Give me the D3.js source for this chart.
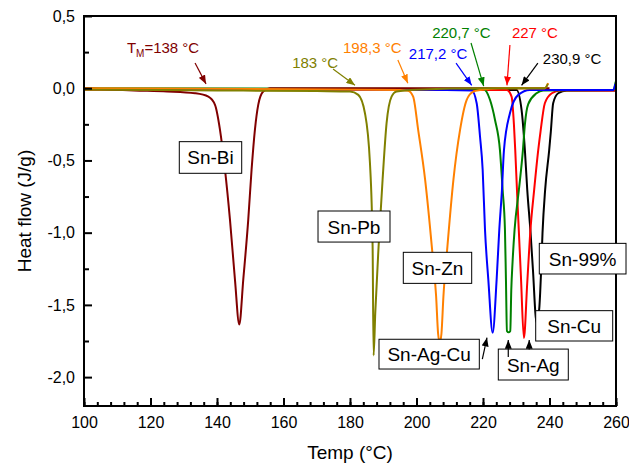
<!DOCTYPE html>
<html>
<head>
<meta charset="utf-8">
<script src="https://cdn.jsdelivr.net/npm/d3@7"></script>
<style>
  body { margin: 0; background: #fff; }
  svg { font-family: "Liberation Sans", Arial, sans-serif; }
</style>
</head>
<body>
<script>
// DSC curves: [temp °C, heat flow J/g]
const snBi = [[100,0],[115,-0.015],[125,-0.022],[133.4,-0.035],[137.4,-0.058],[139.4,-0.115],[140.9,-0.288],[142.4,-0.564],[143.9,-0.91],[145.4,-1.325],[146.7,-1.636],[147.9,-1.325],[149.4,-0.91],[150.4,-0.564],[151.4,-0.288],[152.4,-0.115],[153.9,-0.023],[155.9,0],[200,0],[240,0]]
const snPb = [[100,-0.01],[140,-0.015],[170,-0.02],[180,-0.023],[182.5,-0.046],[184.5,-0.173],[186,-0.518],[186.8,-1.095],[187.1,-1.85],[187.6,-1.555],[188.6,-1.095],[189.8,-0.634],[191,-0.242],[192.5,-0.058],[194,-0.023],[200,-0.01],[220,0],[238.6,0],[239.5,0.03]]
const snZn = [[100,0],[150,-0.005],[195,-0.012],[197.5,-0.017],[199,-0.058],[200.5,-0.288],[202.6,-0.634],[204.6,-1.095],[205.9,-1.44],[206.5,-1.7],[207,-1.76],[207.5,-1.7],[208.1,-1.44],[209.3,-1.095],[211.1,-0.634],[213.1,-0.288],[215.1,-0.08],[217.1,-0.023],[219.1,-0.012],[225,0],[238.6,0],[239.6,0.035]]
const snAgCu = [[100,-0.005],[200,-0.01],[216.6,-0.016],[218.1,-0.104],[219.1,-0.334],[219.9,-0.564],[220.6,-0.979],[221.6,-1.325],[222.9,-1.693],[224.1,-1.325],[224.9,-0.979],[225.7,-0.703],[226.3,-0.43],[228.1,-0.173],[230.6,-0.046],[234.1,-0.012],[259.2,-0.012],[259.8,0.03]]
const snAgGreen = [[100,0],[220.1,-0.005],[222.1,-0.08],[223.6,-0.218],[225.1,-0.43],[225.9,-0.703],[226.6,-0.979],[226.9,-1.325],[227.2,-1.68],[227.7,-1.69],[228.2,-1.68],[228.5,-1.4],[228.9,-1.2],[229.5,-0.979],[230.8,-0.703],[232,-0.43],[232.6,-0.25],[233.6,-0.11],[236.1,-0.035],[238.1,-0.016],[259.2,-0.012],[259.9,0.045]]
const snAgRed = [[100,-0.01],[200,-0.012],[227.1,-0.012],[228.6,-0.058],[229.3,-0.25],[229.7,-0.43],[230.3,-0.75],[230.8,-1.0],[231.4,-1.3],[232.3,-1.73],[233.3,-1.35],[234.2,-1.0],[235.4,-0.7],[236.6,-0.43],[237.3,-0.3],[238.6,-0.104],[240.7,-0.035],[243.2,-0.016],[259.7,-0.016]]
const snCu = [[100,-0.005],[200,-0.01],[230.1,-0.012],[231.6,-0.15],[232.6,-0.43],[233.3,-0.7],[234.3,-1.0],[235,-1.25],[236.1,-1.62],[236.9,-1.53],[237.5,-1.25],[237.9,-1.0],[238.7,-0.7],[239.9,-0.43],[240.4,-0.3],[241.1,-0.104],[242.6,-0.035],[245.2,-0.016],[259.7,-0.016]]

const seriesData = [snCu, snAgRed, snAgGreen, snAgCu, snBi, snZn, snPb]
const seriesColors = ['#000000', '#ff0000', '#008000', '#0000ff', '#800000', '#ff8000', '#808000']

const xTicks = [100, 120, 140, 160, 180, 200, 220, 240, 260]
const yTicks = [-2.0, -1.5, -1.0, -0.5, 0.0, 0.5]

// onset temperature notes: [text, color]
const onsetText = ['=138 °C', '183 °C', '198,3 °C', '217,2 °C', '220,7 °C', '227 °C', '230,9 °C']
const onsetColors = ['#800000', '#808000', '#ff8000', '#0000ff', '#008000', '#ff0000', '#000000']
// where they sit (data units): text start, arrow from, arrow to
const onsetPos = [
  {t: 112.9, v: 0.244, a: [133.4, 0.174, 136.7, 0.03]},
  {t: 162.6, v: 0.14,  a: [174.9, 0.133, 181.5, 0.02]},
  {t: 177.9, v: 0.244, a: [194.4, 0.195, 197.4, 0.035]},
  {t: 197.7, v: 0.202, a: [211.9, 0.174, 216.6, 0.02]},
  {t: 204.7, v: 0.348, a: [216.4, 0.313, 220.2, 0.015]},
  {t: 228.7, v: 0.348, a: [228.1, 0.299, 227.2, 0.02]},
  {t: 238.0, v: 0.168, a: [236.5, 0.174, 231.6, 0.02]}
]

const boxLabels = ['Sn-Bi', 'Sn-Pb', 'Sn-Zn', 'Sn-Ag-Cu', 'Sn-Ag', 'Sn-Cu', 'Sn-99%']
const boxPos = [
  [128.66, 147.43, -0.370, -0.589],
  [170.38, 192.03, -0.850, -1.065],
  [196.03, 216.60, -1.136, -1.351],
  [188.72, 218.89, -1.738, -1.944],
  [224.60, 245.65, -1.806, -2.020],
  [235.85, 259.01, -1.540, -1.750],
  [236.93, 263.01, -1.074, -1.286]
]
const boxArrows = [
  [219.8, -1.876, 221.2, -1.727],
  [227.6, -1.86, 227.6, -1.743],
  [233.9, -1.808, 233.9, -1.743]
]

const W = 629, H = 467
const pl = 84, pr = 616, pt = 16, pb = 406

const svg = d3.select('body').append('svg').attr('width', W).attr('height', H)

const x = d3.scaleLinear().domain([100, 260]).range([pl, pr])
const y = d3.scaleLinear().domain([-2.2, 0.5]).range([pb, pt])

const defs = svg.append('defs')
new Set(onsetColors).forEach(c => {
  defs.append('marker')
    .attr('id', 'ah' + c.slice(1))
    .attr('markerUnits', 'userSpaceOnUse')
    .attr('viewBox', '0 0 10 8')
    .attr('markerWidth', 9).attr('markerHeight', 7)
    .attr('refX', 10).attr('refY', 4)
    .attr('orient', 'auto')
    .append('path').attr('d', 'M0,0L10,4L0,8z').attr('fill', c)
})

// curves
const line = d3.line().x(d => x(d[0])).y(d => y(d[1])).curve(d3.curveMonotoneX)
svg.append('g').selectAll('path')
  .data(seriesData)
  .enter()
  .append('path')
  .attr('d', line)
  .attr('fill', 'none')
  .attr('stroke', (d, i) => seriesColors[i])
  .attr('stroke-width', 2)
  .attr('stroke-linejoin', 'round')

// frame
svg.append('rect')
  .attr('x', pl).attr('y', pt)
  .attr('width', pr - pl).attr('height', pb - pt)
  .attr('fill', 'none').attr('stroke', '#000').attr('stroke-width', 2)

const fmt = d3.formatLocale({decimal: ',', thousands: '.', grouping: [3], currency: ['', ''], minus: '-'}).format('.1f')

const gx = svg.append('g').attr('transform', `translate(0,${pb})`)
gx.call(d3.axisBottom(x).tickValues(d3.range(100, 261, 4)).tickSize(-4).tickFormat(''))
gx.append('g').call(d3.axisBottom(x).tickValues(xTicks).tickSize(-8).tickPadding(11).tickFormat(d3.format('d')))

const gy = svg.append('g').attr('transform', `translate(${pl},0)`)
gy.call(d3.axisLeft(y).tickValues([-1.75, -1.25, -0.75, -0.25, 0.25]).tickSize(-5).tickFormat(''))
gy.append('g').call(d3.axisLeft(y).tickValues(yTicks).tickSize(-8).tickPadding(9).tickFormat(fmt))

svg.selectAll('.domain').remove()
svg.selectAll('.tick line').attr('stroke', '#000').attr('stroke-width', 2)
svg.selectAll('.tick text').attr('font-size', 16).attr('fill', '#000')
gx.attr('font-family', null)
gy.attr('font-family', null)
svg.selectAll('g').attr('font-family', null)

// axis titles
svg.append('text')
  .attr('x', (pl + pr) / 2).attr('y', 459)
  .attr('text-anchor', 'middle').attr('font-size', 19)
  .text('Temp (°C)')
svg.append('text')
  .attr('transform', `translate(31,${(pt + pb) / 2}) rotate(-90)`)
  .attr('text-anchor', 'middle').attr('font-size', 19)
  .text('Heat flow (J/g)')

// onset notes
onsetPos.forEach((p, i) => {
  const c = onsetColors[i]
  const t = svg.append('text')
    .attr('x', x(p.t)).attr('y', y(p.v))
    .attr('font-size', 15).attr('fill', c)
  if (i === 0) {
    t.append('tspan').text('T')
    t.append('tspan').attr('font-size', 10).attr('dy', 4).text('M')
    t.append('tspan').attr('dy', -4).text(onsetText[i])
  } else {
    t.text(onsetText[i])
  }
  svg.append('line')
    .attr('x1', x(p.a[0])).attr('y1', y(p.a[1]))
    .attr('x2', x(p.a[2])).attr('y2', y(p.a[3]))
    .attr('stroke', c).attr('stroke-width', 1.2)
    .attr('marker-end', `url(#ah${c.slice(1)})`)
})

// boxed labels
boxPos.forEach((b, i) => {
  const x0 = x(b[0]), x1 = x(b[1]), y0 = y(b[2]), y1 = y(b[3])
  svg.append('rect')
    .attr('x', x0).attr('y', y0)
    .attr('width', x1 - x0).attr('height', y1 - y0)
    .attr('fill', '#fff').attr('stroke', '#000').attr('stroke-width', 1)
  svg.append('text')
    .attr('x', (x0 + x1) / 2).attr('y', (y0 + y1) / 2 + 7)
    .attr('text-anchor', 'middle').attr('font-size', 19)
    .text(boxLabels[i])
})

boxArrows.forEach(a => {
  svg.append('line')
    .attr('x1', x(a[0])).attr('y1', y(a[1]))
    .attr('x2', x(a[2])).attr('y2', y(a[3]))
    .attr('stroke', '#000').attr('stroke-width', 1.2)
    .attr('marker-end', 'url(#ah000000)')
})
</script>
</body>
</html>
